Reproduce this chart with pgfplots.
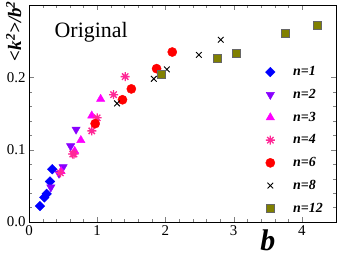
\documentclass[border=0pt]{standalone}
\usepackage{pgfplots}
\pgfplotsset{compat=1.18}
\usepackage{fontspec}
\setmainfont{Liberation Serif}
\definecolor{cblue}{RGB}{0,0,255}
\definecolor{cpurple}{RGB}{136,0,255}
\definecolor{cmag}{RGB}{255,0,255}
\definecolor{cpink}{RGB}{255,40,150}
\definecolor{cred}{RGB}{255,0,0}
\definecolor{colive}{RGB}{128,128,0}
\pgfdeclareplotmark{ast8}{%
  \pgfpathmoveto{\pgfqpoint{-\pgfplotmarksize}{0pt}}\pgfpathlineto{\pgfqpoint{\pgfplotmarksize}{0pt}}%
  \pgfpathmoveto{\pgfqpoint{0pt}{-\pgfplotmarksize}}\pgfpathlineto{\pgfqpoint{0pt}{\pgfplotmarksize}}%
  \pgfpathmoveto{\pgfqpoint{-0.707\pgfplotmarksize}{-0.707\pgfplotmarksize}}\pgfpathlineto{\pgfqpoint{0.707\pgfplotmarksize}{0.707\pgfplotmarksize}}%
  \pgfpathmoveto{\pgfqpoint{-0.707\pgfplotmarksize}{0.707\pgfplotmarksize}}\pgfpathlineto{\pgfqpoint{0.707\pgfplotmarksize}{-0.707\pgfplotmarksize}}%
  \pgfusepathqstroke}
\begin{document}
\begin{tikzpicture}
\begin{axis}[
  scale only axis, width=307bp, height=217bp,
  xmin=0, xmax=4.5, ymin=0, ymax=0.3,
  xtick={0,1,2,3,4}, ytick={0,0.1,0.2},
  minor x tick num=4, minor y tick num=4,
  tick align=inside, tick pos=both,
  major tick length=5bp, minor tick length=3bp,
  yticklabel style={/pgf/number format/fixed, /pgf/number format/fixed zerofill, /pgf/number format/precision=1},
  /pgf/number format/assume math mode=true,
  tick label style={font=\fontsize{15}{16}\selectfont},
  scaled y ticks=false,
  xlabel={\textbf{\textit{b}}},
  xlabel style={font=\fontsize{30}{30}\selectfont, at={(rel axis cs:0.778,0)}, anchor=north, yshift=-4bp},
  ylabel={\textbf{\textit{<k\textsuperscript{2}>/b\textsuperscript{2}}}},
  ylabel style={font=\fontsize{19}{19}\selectfont, at={(rel axis cs:-0.05,0.88)}, anchor=center},
  legend style={draw=none, fill=none, at={(rel axis cs:0.76,0.735)}, anchor=north west,
    font=\bfseries\itshape\fontsize{14}{15}\selectfont, row sep=8bp,
    /tikz/every odd column/.append style={column sep=16bp}},
  legend cell align=left,
  every axis plot/.append style={only marks},
]
\addplot[mark=square*, mark options={rotate=45}, mark size=3.4bp, color=cblue] coordinates {(0.161,0.022)(0.224,0.034)(0.259,0.039)(0.307,0.056)(0.341,0.073)};
\addlegendentry{n=1}
\addplot[mark=triangle*, mark options={rotate=180}, mark size=4.8bp, color=cpurple] coordinates {(0.32,0.048)(0.44,0.067)(0.50,0.076)(0.61,0.105)(0.69,0.128)};
\addlegendentry{n=2}
\addplot[mark=triangle*, mark size=4.8bp, color=cmag] coordinates {(0.47,0.070)(0.67,0.098)(0.76,0.113)(0.92,0.147)(1.05,0.170)};
\addlegendentry{n=3}
\addplot[mark=ast8, mark size=4.5bp, color=cpink, mark options={line width=1.3pt}] coordinates {(0.46,0.068)(0.64,0.094)(0.66,0.094)(0.92,0.126)(1.00,0.144)(1.24,0.176)(1.41,0.201)};
\addlegendentry{n=4}
\addplot[mark=*, mark size=4.6bp, color=cred] coordinates {(0.97,0.136)(1.37,0.169)(1.50,0.184)(1.87,0.212)(2.10,0.235)};
\addlegendentry{n=6}
\addplot[mark=x, mark size=4bp, color=black, mark options={line width=0.9pt}] coordinates {(1.29,0.164)(1.83,0.198)(2.02,0.211)(2.49,0.231)(2.81,0.252)};
\addlegendentry{n=8}
\addplot[mark=square*, mark size=4bp, color=colive, mark options={draw=black!60}] coordinates {(1.94,0.204)(2.76,0.226)(3.03,0.234)(3.75,0.261)(4.23,0.272)};
\addlegendentry{n=12}
\node[anchor=west, font=\fontsize{22}{22}\selectfont] at (rel axis cs:0.072,0.876) {Original};
\end{axis}
\pgfresetboundingbox
\path ([xshift=-29bp,yshift=-34bp]current axis.south west) rectangle ([xshift=2bp,yshift=5bp]current axis.north east);
\end{tikzpicture}
\end{document}
